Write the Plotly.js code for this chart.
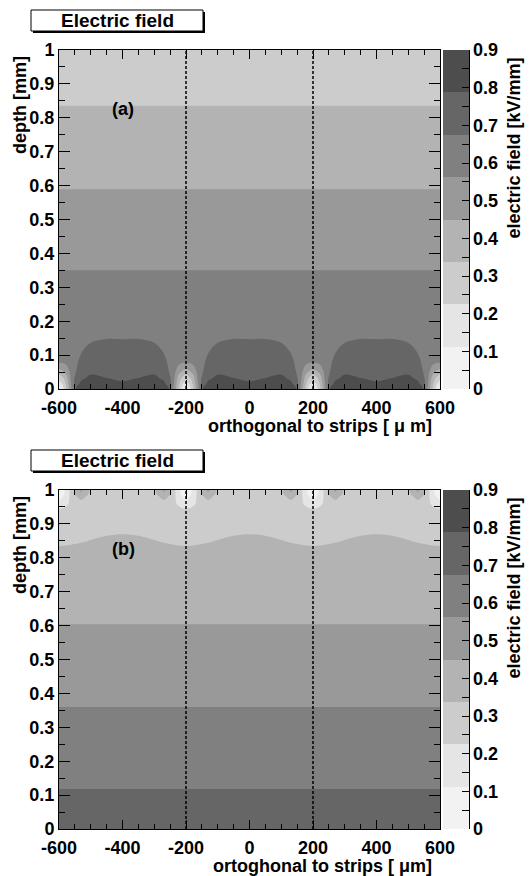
<!DOCTYPE html>
<html><head><meta charset="utf-8">
<script src="https://cdn.plot.ly/plotly-3.0.1.min.js"></script>
<style>html,body{margin:0;padding:0;background:#fff}#chart{width:532px;height:876px}</style>
</head><body><div id="chart"></div>
<script>
// ================= DATA =================
const contourStart = 0.1125, contourEnd = 0.7875, contourStep = 0.1125;
const fieldMin = 0, fieldMax = 0.9;
const grayBands = ['#f2f2f2','#e5e5e5','#cccccc','#b3b3b3','#999999','#808080','#666666','#4d4d4d'];
const colorbarTickVals = [0,0.05,0.1,0.15,0.2,0.25,0.3,0.35,0.4,0.45,0.5,0.55,0.6,0.65,0.7,0.75,0.8,0.85,0.9];
const colorbarTickText = ['0','','0.1','','0.2','','0.3','','0.4','','0.5','','0.6','','0.7','','0.8','','0.9'];
const xTickVals = [-600,-400,-200,0,200,400,600];
const xTickText = ['-600','-400','-200','0','200','400','600'];
const stripEdgesX = [-200, 200];
const depthRange = [0, 1];

// ---- panel (a): x positions (µm), depth rows (mm), field profiles (kV/mm) ----
const xA = [-600,-588,-575,-560,-545,-530,-500,-450,-400,-350,-300,-270,-255,-240,-225,-212,-200,
            -188,-175,-160,-145,-130,-100,-50,0,50,100,130,145,160,175,188,200,
            212,225,240,255,270,300,350,400,450,500,530,545,560,575,588,600];
const depthA = [0,0.015,0.03,0.045,0.06,0.08,0.11,0.15,0.2,0.4,0.6,0.8,1.0];
// which field profile each x column shows (by distance from the nearest strip)
const columnProfileA = [0,1,2,3,4,5,6,7,8,7,6,5,4,3,2,1,0,
                        1,2,3,4,5,6,7,8,7,6,5,4,3,2,1,0,
                        1,2,3,4,5,6,7,8,7,6,5,4,3,2,1,0];
const fieldProfilesA = [
  [0.07,0.15,0.26,0.345,0.455,0.58,0.60,0.62,0.633,0.539,0.445,0.354,0.262],  // at strip
  [0.18,0.24,0.31,0.40,0.49,0.575,0.60,0.62,0.633,0.539,0.445,0.354,0.262],   // 12 µm
  [0.35,0.38,0.42,0.47,0.54,0.59,0.605,0.62,0.633,0.539,0.445,0.354,0.262],   // 25 µm
  [0.57,0.59,0.61,0.615,0.615,0.62,0.625,0.63,0.633,0.539,0.445,0.354,0.262], // 40 µm
  [0.80,0.77,0.73,0.69,0.672,0.66,0.645,0.64,0.633,0.539,0.445,0.354,0.262],  // 55 µm
  [0.82,0.80,0.78,0.755,0.73,0.705,0.672,0.655,0.633,0.539,0.445,0.354,0.262],// 70 µm
  [0.815,0.81,0.80,0.785,0.76,0.733,0.695,0.665,0.633,0.539,0.445,0.354,0.262],// 100 µm
  [0.81,0.80,0.79,0.775,0.76,0.74,0.71,0.673,0.633,0.539,0.445,0.354,0.262],  // 150 µm
  [0.81,0.795,0.78,0.77,0.758,0.74,0.71,0.672,0.633,0.539,0.445,0.354,0.262]  // 200 µm (mid-gap)
];

// ---- panel (b) ----
const xB = [-600,-585,-570,-555,-545,-530,-515,-500,-450,-400,-350,-300,-285,-270,-255,-245,-230,-215,-200,
            -185,-170,-155,-145,-130,-115,-100,-50,0,50,100,115,130,145,155,170,185,200,
            215,230,245,255,270,285,300,350,400,450,500,515,530,545,555,570,585,600];
const depthB = [0,0.2,0.4,0.6,0.75,0.9,0.93,0.95,0.965,0.98,0.99,1.0];
const columnProfileB = [0,1,2,3,4,5,6,7,8,9,8,7,6,5,4,3,2,1,0,
                        1,2,3,4,5,6,7,8,9,8,7,6,5,4,3,2,1,0,
                        1,2,3,4,5,6,7,8,9,8,7,6,5,4,3,2,1,0];
const fieldProfilesB = [
  [0.73,0.637,0.544,0.452,0.383,0.3027,0.27,0.21,0.13,0.07,0.05,0.04],   // at strip
  [0.73,0.637,0.544,0.452,0.383,0.3032,0.27,0.22,0.17,0.125,0.10,0.09],  // 15 µm
  [0.73,0.637,0.544,0.452,0.383,0.3046,0.285,0.24,0.215,0.20,0.195,0.19],// 30 µm
  [0.73,0.637,0.544,0.452,0.383,0.3069,0.295,0.30,0.31,0.32,0.325,0.33], // 45 µm
  [0.73,0.637,0.544,0.452,0.383,0.3085,0.295,0.305,0.32,0.335,0.36,0.38],// 55 µm
  [0.73,0.637,0.544,0.452,0.383,0.3108,0.30,0.31,0.325,0.36,0.43,0.48],  // 70 µm
  [0.73,0.637,0.544,0.452,0.383,0.3134,0.30,0.305,0.32,0.335,0.36,0.38], // 85 µm
  [0.73,0.637,0.544,0.452,0.383,0.3164,0.30,0.30,0.31,0.315,0.32,0.325], // 100 µm
  [0.73,0.637,0.544,0.452,0.383,0.3236,0.30,0.295,0.29,0.29,0.29,0.29],  // 150 µm
  [0.73,0.637,0.544,0.452,0.383,0.326,0.30,0.295,0.29,0.29,0.29,0.29]    // 200 µm
];

// ================= BUILD =================
function buildZ(depths, colProfile, profiles) {
  return depths.map((_, j) => colProfile.map(p => profiles[p][j]));
}
const zA = buildZ(depthA, columnProfileA, fieldProfilesA);
const zB = buildZ(depthB, columnProfileB, fieldProfilesB);

const grayScale = [];
grayBands.forEach((c, k) => {
  grayScale.push([k / grayBands.length, c]);
  grayScale.push([(k + 1) / grayBands.length, c]);
});

const W = 532, H = 876;
const px = v => v / W, py = v => 1 - v / H;
const FONT = 'Liberation Sans, Arial, sans-serif';
const tf = {family: FONT, size: 18, color: '#000', weight: 'bold'};

function cbar(top, bottom) {
  return {
    x: px(443), xanchor: 'left', xpad: 0,
    y: py((top + bottom) / 2), yanchor: 'middle', ypad: 0,
    len: (bottom - top) / H, lenmode: 'fraction',
    thickness: 26, thicknessmode: 'pixels', outlinewidth: 0,
    ticks: 'inside', ticklen: 7, tickwidth: 1, tickcolor: '#000',
    tickvals: colorbarTickVals, ticktext: colorbarTickText, tickfont: tf
  };
}

function contourTrace(x, y, z, xa, ya, top, bottom) {
  return {
    type: 'contour', x: x, y: y, z: z, xaxis: xa, yaxis: ya,
    zmin: fieldMin, zmax: fieldMax, autocontour: false,
    contours: {start: contourStart, end: contourEnd, size: contourStep, coloring: 'fill', showlines: false},
    line: {width: 0}, colorscale: grayScale, hoverinfo: 'skip',
    colorbar: cbar(top, bottom)
  };
}

const traces = [
  contourTrace(xA, depthA, zA, 'x', 'y', 50, 389),
  contourTrace(xB, depthB, zB, 'x2', 'y2', 490, 829)
];
[['x','y'],['x2','y2']].forEach(([xa, ya]) => {
  stripEdgesX.forEach(s => traces.push({
    type: 'scatter', mode: 'lines', x: [s, s], y: depthRange, xaxis: xa, yaxis: ya,
    line: {color: '#000', width: 1.5, dash: '3px,2px'}, showlegend: false, hoverinfo: 'skip'
  }));
});

function xaxis(anchor) {
  return {
    domain: [px(59), px(440)], anchor: anchor, range: [-600, 600],
    tickvals: xTickVals, ticktext: xTickText, ticks: 'inside', ticklen: 9, tickwidth: 1, tickcolor: '#000',
    minor: {dtick: 50, ticks: 'inside', ticklen: 5, tickcolor: '#000'},
    showline: true, linecolor: '#000', linewidth: 1, mirror: 'ticks',
    showgrid: false, zeroline: false, tickfont: tf, ticklabelstandoff: 2
  };
}
function yaxis(anchor, top, bottom) {
  return {
    domain: [py(bottom), py(top)], anchor: anchor, range: [0, 1],
    dtick: 0.1, ticks: 'inside', ticklen: 11, tickwidth: 1, tickcolor: '#000',
    minor: {dtick: 0.05, ticks: 'inside', ticklen: 6, tickcolor: '#000'},
    showline: true, linecolor: '#000', linewidth: 1, mirror: 'ticks',
    showgrid: false, zeroline: false, tickfont: tf
  };
}

const shapes = [];
const annotations = [];
[[0, 'orthogonal to strips [ \u03bc m]', '(a)'], [440, 'ortoghonal to strips [ \u03bcm]', '(b)']].forEach(([dy, xt, lab]) => {
  // title box with shadow
  shapes.push({type: 'rect', xref: 'paper', yref: 'paper', x0: px(33), x1: px(205), y0: py(dy + 33), y1: py(dy + 12),
               fillcolor: '#000', line: {width: 0}, layer: 'above'});
  shapes.push({type: 'rect', xref: 'paper', yref: 'paper', x0: px(31), x1: px(203), y0: py(dy + 31), y1: py(dy + 10),
               fillcolor: '#fff', line: {color: '#000', width: 1}, layer: 'above'});
  // colorbar axis line
  shapes.push({type: 'line', xref: 'paper', yref: 'paper', x0: px(469.5), x1: px(469.5), y0: py(dy + 389), y1: py(dy + 50),
               line: {color: '#000', width: 1}, layer: 'above'});
  annotations.push({text: 'Electric field', xref: 'paper', yref: 'paper', x: px(117), y: py(dy + 21),
                    xanchor: 'center', yanchor: 'middle', showarrow: false,
                    font: {family: FONT, size: 19, color: '#000', weight: 'bold'}});
  annotations.push({text: lab, xref: 'paper', yref: 'paper', x: px(123), y: py(dy + 109),
                    xanchor: 'center', yanchor: 'middle', showarrow: false, font: tf});
  annotations.push({text: 'depth [mm]', xref: 'paper', yref: 'paper', x: px(20), y: py(dy + 54),
                    xanchor: 'center', yanchor: 'top', textangle: -90, showarrow: false, font: tf});
  annotations.push({text: 'electric field [kV/mm]', xref: 'paper', yref: 'paper', x: px(513), y: py(dy + 56),
                    xanchor: 'center', yanchor: 'top', textangle: -90, showarrow: false, font: tf});
  annotations.push({text: xt, xref: 'paper', yref: 'paper', x: px(434), y: py(dy + 426),
                    xanchor: 'right', yanchor: 'middle', showarrow: false, font: tf});
});

const layout = {
  width: W, height: H, margin: {l: 0, r: 0, t: 0, b: 0},
  paper_bgcolor: '#fff', plot_bgcolor: '#fff', showlegend: false,
  font: {family: FONT, size: 18, color: '#000', weight: 'bold'},
  xaxis: xaxis('y'), yaxis: yaxis('x', 50, 389),
  xaxis2: xaxis('y2'), yaxis2: yaxis('x2', 490, 829),
  shapes: shapes, annotations: annotations
};

Plotly.newPlot('chart', traces, layout, {displayModeBar: false, staticPlot: true});
</script>
</body></html>
